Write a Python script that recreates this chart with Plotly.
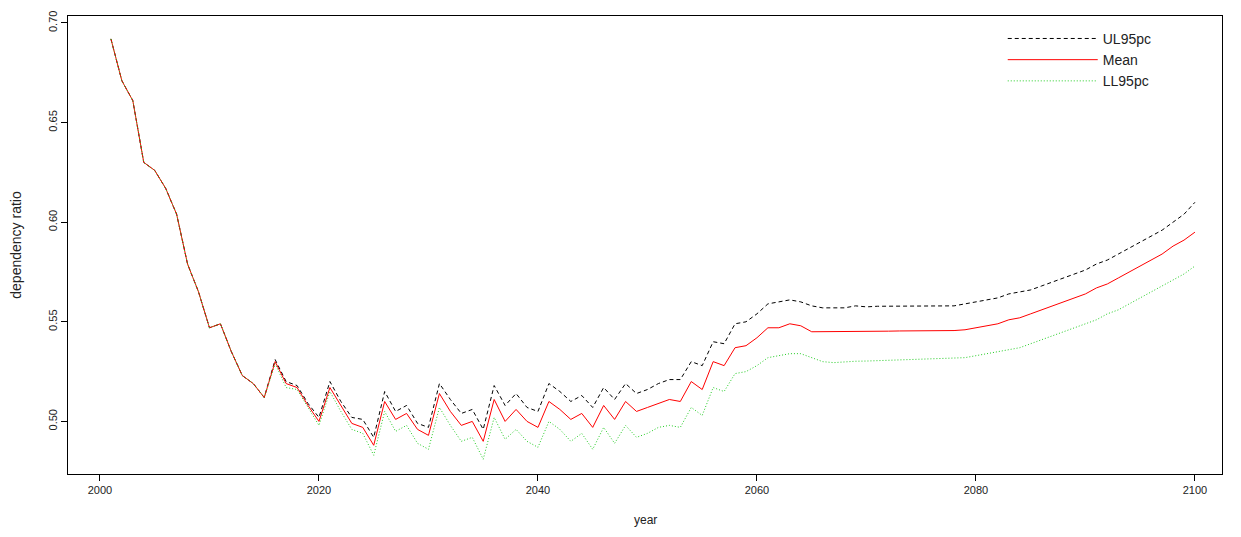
import plotly.graph_objects as go

years = list(range(2001, 2101))
early = [0.692, 0.671, 0.661, 0.630, 0.626, 0.617, 0.604, 0.579, 0.565, 0.547,
         0.549, 0.535, 0.523, 0.519, 0.512]
mean_rest = [0.530, 0.519, 0.517, 0.508, 0.500, 0.517, 0.508, 0.499, 0.497, 0.488,
             0.510, 0.501, 0.504, 0.496, 0.493, 0.514, 0.505, 0.498, 0.500, 0.490,
             0.511, 0.500, 0.506, 0.500, 0.497, 0.510, 0.506, 0.501, 0.504, 0.497,
             0.508, 0.501, 0.510, 0.505, 0.507, 0.509, 0.511, 0.510, 0.520, 0.516,
             0.530, 0.528, 0.537, 0.538, 0.542, 0.547, 0.547, 0.549, 0.548, 0.545,
             0.545, 0.5450, 0.5452, 0.5453, 0.5453, 0.5453, 0.5453, 0.5454, 0.5454, 0.5455,
             0.5455, 0.5455, 0.5456, 0.546, 0.547, 0.548, 0.549, 0.551, 0.552, 0.554,
             0.556, 0.558, 0.560, 0.562, 0.564, 0.567, 0.569, 0.572, 0.575, 0.578,
             0.581, 0.584, 0.588, 0.591, 0.595]
ul_rest = [0.531, 0.520, 0.518, 0.509, 0.502, 0.520, 0.510, 0.502, 0.501, 0.492,
           0.515, 0.505, 0.508, 0.499, 0.497, 0.519, 0.511, 0.504, 0.506, 0.496,
           0.518, 0.508, 0.514, 0.507, 0.505, 0.519, 0.515, 0.510, 0.513, 0.507,
           0.517, 0.511, 0.519, 0.514, 0.516, 0.519, 0.521, 0.521, 0.530, 0.528,
           0.540, 0.539, 0.549, 0.550, 0.554, 0.559, 0.560, 0.561, 0.560, 0.558,
           0.557, 0.557, 0.557, 0.558, 0.5575, 0.5578, 0.5578, 0.5578, 0.5578, 0.5578,
           0.5578, 0.5578, 0.5580, 0.559, 0.560, 0.561, 0.562, 0.564, 0.565, 0.566,
           0.568, 0.570, 0.572, 0.574, 0.576, 0.579, 0.581, 0.584, 0.587, 0.590,
           0.593, 0.596, 0.600, 0.604, 0.610]
ll_rest = [0.529, 0.517, 0.516, 0.507, 0.498, 0.515, 0.505, 0.496, 0.494, 0.483,
           0.505, 0.495, 0.498, 0.489, 0.486, 0.507, 0.498, 0.490, 0.492, 0.481,
           0.502, 0.491, 0.496, 0.490, 0.487, 0.500, 0.496, 0.490, 0.494, 0.486,
           0.497, 0.489, 0.498, 0.492, 0.494, 0.497, 0.498, 0.497, 0.507, 0.503,
           0.517, 0.515, 0.524, 0.525, 0.528, 0.532, 0.533, 0.534, 0.534, 0.532,
           0.530, 0.5295, 0.5300, 0.5302, 0.5303, 0.5305, 0.5306, 0.5307, 0.5308, 0.5310,
           0.5312, 0.5314, 0.5318, 0.532, 0.533, 0.534, 0.535, 0.536, 0.537, 0.539,
           0.541, 0.543, 0.545, 0.547, 0.549, 0.551, 0.554, 0.556, 0.559, 0.562,
           0.565, 0.568, 0.571, 0.574, 0.578]
mean = early + mean_rest
ul = early + ul_rest
ll = early + ll_rest

fig = go.Figure()
fig.add_trace(go.Scatter(x=years, y=ul, name="UL95pc", mode="lines",
                         line=dict(color="black", width=1, dash="4px,3px")))
fig.add_trace(go.Scatter(x=years, y=mean, name="Mean", mode="lines",
                         line=dict(color="red", width=1)))
fig.add_trace(go.Scatter(x=years, y=ll, name="LL95pc", mode="lines",
                         line=dict(color="#22cc22", width=1, dash="1px,2px")))

axis_common = dict(showline=True, linecolor="black", linewidth=1, mirror=True,
                   ticks="outside", ticklen=6, tickcolor="black", showgrid=False,
                   zeroline=False, automargin=False,
                   tickfont=dict(family="Liberation Sans", size=11, color="#222"))
fig.update_layout(
    margin=dict(l=60, r=11, t=8, b=55),
    plot_bgcolor="white", paper_bgcolor="white",
    font=dict(family="Liberation Sans", size=12, color="#222"),
    xaxis=dict(range=[1997.08, 2102.47], tickvals=[2000, 2020, 2040, 2060, 2080, 2100],
               **axis_common),
    yaxis=dict(range=[0.4736, 0.7035], tickvals=[0.50, 0.55, 0.60, 0.65, 0.70],
               tickformat=".2f", tickangle=-90,
               title=dict(text="dependency ratio", standoff=24), **axis_common),
    legend=dict(x=0.81, y=0.985, xanchor="left", yanchor="top", bgcolor="rgba(0,0,0,0)",
                font=dict(size=14), itemwidth=90, tracegroupgap=0),
    showlegend=True,
    annotations=[dict(text="year", xref="paper", yref="paper", x=0.5, y=0,
                      yshift=-46, xanchor="center", yanchor="middle", showarrow=False,
                      font=dict(size=12, color="#222"))],
)
fig.write_html("out.html", default_width="100%", default_height="100%")
